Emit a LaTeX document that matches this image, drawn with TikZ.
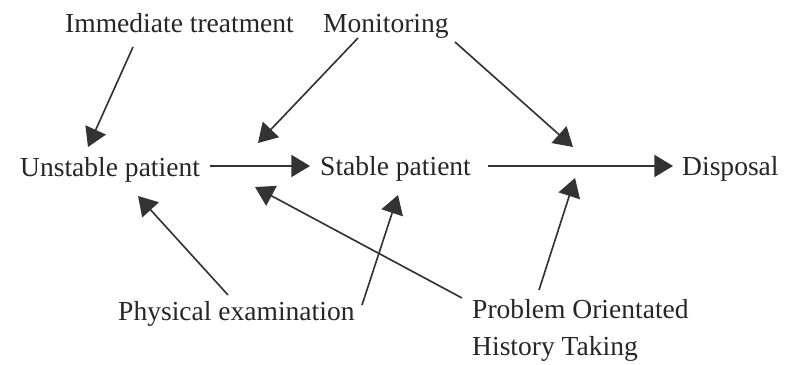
\documentclass[tikz,border=0pt]{standalone}
\usepackage{fontspec}
\setmainfont{Liberation Serif}
\usetikzlibrary{arrows.meta}
\tikzset{
    lbl/.style={anchor=base west, inner sep=0pt, text=black!85,
        font=\fontsize{23.5}{31.5}\selectfont},
    arr/.style={-{Triangle[length=16pt,width=19pt]}, line width=1.4pt, draw=black!80, fill=black!75},
}
\begin{document}
\begin{tikzpicture}[x=0.03cm, y=-0.03cm]
    \useasboundingbox (0,0) rectangle (792,364);
    % stages
    \node[lbl] (unstable) at (20,176) {Unstable patient};
    \node[lbl] (stable) at (320,175) {Stable patient};
    \node[lbl] (disposal) at (682,175) {Disposal};
    % actions
    \node[lbl] (immediate) at (65,32) {Immediate treatment};
    \node[lbl] (monitoring) at (323,32) {Monitoring};
    \node[lbl] (physical) at (118,320) {Physical examination};
    \node[lbl, align=left] (history) at (472,355) {Problem Orientated\\History Taking};
    % arrow ends
    \coordinate (imm-s) at (133,47);   \coordinate (imm-t) at (88,147);
    \coordinate (mon-s1) at (358,38);  \coordinate (mon-t1) at (258,143);
    \coordinate (mon-s2) at (455,42);  \coordinate (mon-t2) at (573,147);
    \coordinate (uns-s) at (210,166);  \coordinate (uns-t) at (310,166);
    \coordinate (sta-s) at (488,166);  \coordinate (sta-t) at (673,166);
    \coordinate (phy-s1) at (228,295); \coordinate (phy-t1) at (138,196);
    \coordinate (phy-s2) at (362,305); \coordinate (phy-t2) at (398,195);
    \coordinate (his-s1) at (462,298); \coordinate (his-t1) at (255,187);
    \coordinate (his-s2) at (539,290); \coordinate (his-t2) at (575,178);
    % connectors
    \draw[arr] (imm-s) -- (imm-t);
    \draw[arr] (mon-s1) -- (mon-t1);
    \draw[arr] (mon-s2) -- (mon-t2);
    \draw[arr] (uns-s) -- (uns-t);
    \draw[arr] (sta-s) -- (sta-t);
    \draw[arr] (phy-s1) -- (phy-t1);
    \draw[arr] (phy-s2) -- (phy-t2);
    \draw[arr] (his-s1) -- (his-t1);
    \draw[arr] (his-s2) -- (his-t2);
\end{tikzpicture}
\end{document}
